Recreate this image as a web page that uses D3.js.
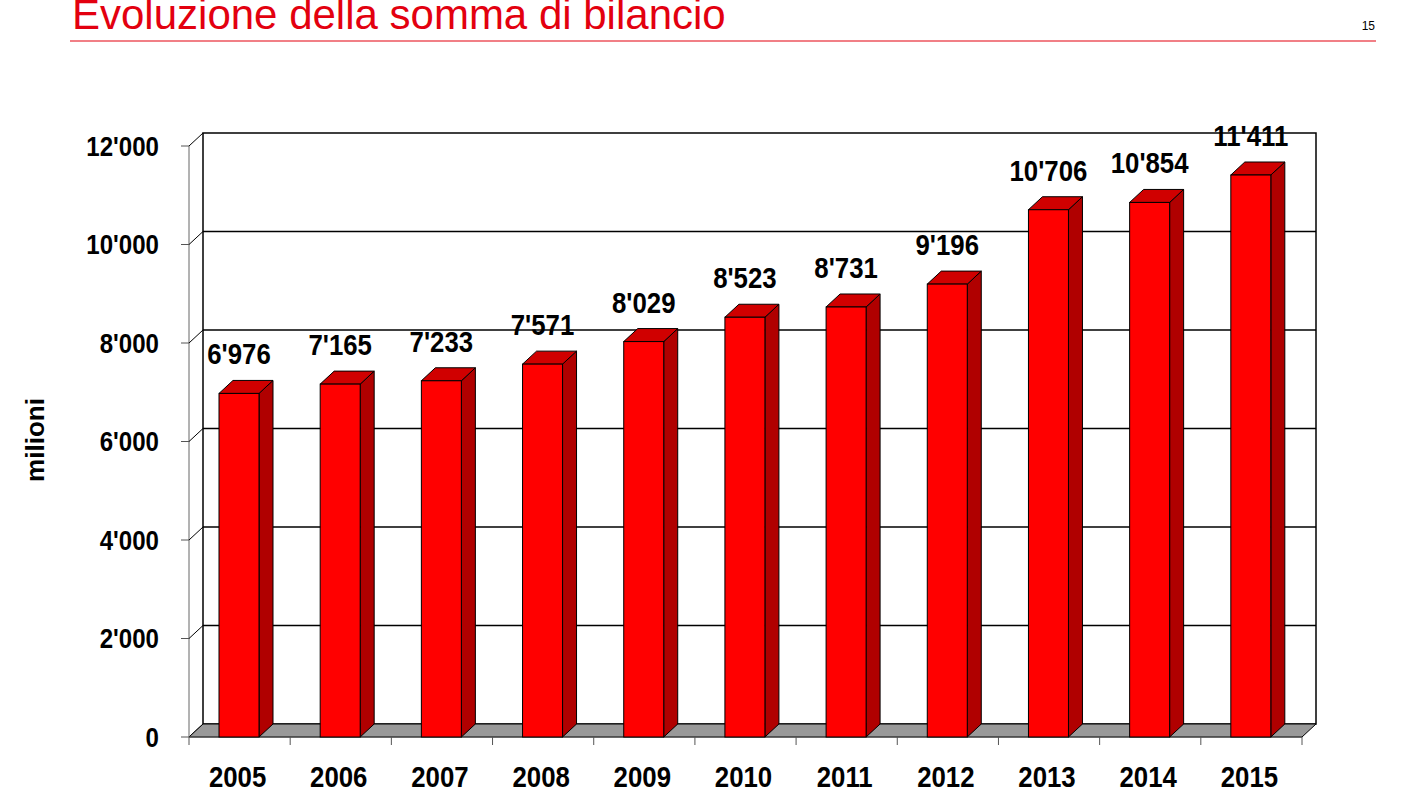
<!DOCTYPE html>
<html><head><meta charset="utf-8">
<script src="https://cdn.jsdelivr.net/npm/d3@7"></script>
<style>body{margin:0;background:#fff}</style>
</head><body>
<svg id="c" width="1408" height="792"></svg>
<script>
"use strict";

const years = ['2005','2006','2007','2008','2009','2010','2011','2012','2013','2014','2015'];
const values = [6976, 7165, 7233, 7571, 8029, 8523, 8731, 9196, 10706, 10854, 11411];
const yTicks = [0, 2000, 4000, 6000, 8000, 10000, 12000];

const svg = d3.select('#c');
const fmt = v => d3.format(',')(v).replace(/,/g, "'");

// depth offset of the 3d box
const dx = 14, dy = -13;
const x0 = 189, x1 = 1302, yBase = 737;

const x = d3.scaleBand().domain(years).range([x0, x1]).paddingInner(0).paddingOuter(0);
const y = d3.scaleLinear().domain([0, 12000]).range([yBase, 146]);

// narrow bold text, like the original's condensed look
const squeeze = (sel, cx, k) => sel.attr('transform', d => { const c = cx(d); return `translate(${c},0) scale(${k},1) translate(${-c},0)`; });

// title
svg.append('text').attr('x', 72).attr('y', 29).attr('fill', '#e3000f')
  .attr('font-family', 'Arial, Liberation Sans, sans-serif').attr('font-size', 42)
  .text('Evoluzione della somma di bilancio');
svg.append('line').attr('x1', 70).attr('x2', 1376).attr('y1', 41).attr('y2', 41)
  .attr('stroke', '#e3000f').attr('stroke-width', 1.2);
svg.append('text').attr('x', 1375).attr('y', 30).attr('text-anchor', 'end')
  .attr('font-family', 'Arial, Liberation Sans, sans-serif').attr('font-size', 12).text('15');

const g = svg.append('g');
const ink = '#000';

// back wall frame + gridlines
g.append('rect').attr('x', x0 + dx).attr('y', y(12000) + dy).attr('width', x1 - x0)
  .attr('height', yBase - y(12000)).attr('fill', 'none').attr('stroke', ink).attr('stroke-width', 1.5);
g.selectAll('.grid').data(yTicks.filter(d => d > 0 && d < 12000)).join('line')
  .attr('x1', x0 + dx).attr('x2', x1 + dx).attr('y1', d => y(d) + dy).attr('y2', d => y(d) + dy)
  .attr('stroke', ink).attr('stroke-width', 1.5);

// left side wall edge
g.append('line').attr('x1', x0).attr('y1', yBase).attr('x2', x0).attr('y2', y(12000))
  .attr('stroke', '#666').attr('stroke-width', 1);
g.selectAll('.diag').data(yTicks).join('line')
  .attr('x1', x0).attr('x2', x0 + dx).attr('y1', d => y(d)).attr('y2', d => y(d) + dy)
  .attr('stroke', ink).attr('stroke-width', 1);

// floor
g.append('polygon')
  .attr('points', [[x0, yBase], [x1, yBase], [x1 + dx, yBase + dy], [x0 + dx, yBase + dy]].join(' '))
  .attr('fill', '#999').attr('stroke', ink).attr('stroke-width', 1);

// y axis ticks + labels
g.selectAll('.yt').data(yTicks).join('line')
  .attr('x1', x0 - 8).attr('x2', x0).attr('y1', d => y(d)).attr('y2', d => y(d)).attr('stroke', '#555');
g.selectAll('.yl').data(yTicks).join('text')
  .attr('x', x0 - 30).attr('y', d => y(d) + 10).attr('text-anchor', 'end')
  .attr('font-family', 'Arial, Liberation Sans, sans-serif').attr('font-weight', 'bold').attr('font-size', 28)
  .call(squeeze, () => x0 - 30, 0.86)
  .text(fmt);
svg.append('text').attr('transform', 'translate(44,440) rotate(-90)').attr('text-anchor', 'middle')
  .attr('font-family', 'Arial, Liberation Sans, sans-serif').attr('font-weight', 'bold').attr('font-size', 26)
  .text('milioni');

// x axis line, ticks and labels
g.append('line').attr('x1', x0).attr('x2', x1).attr('y1', yBase).attr('y2', yBase).attr('stroke', '#555');
g.selectAll('.xt').data(years.concat(['end'])).join('line')
  .attr('x1', (d, i) => x0 + i * x.step()).attr('x2', (d, i) => x0 + i * x.step())
  .attr('y1', yBase).attr('y2', yBase + 8).attr('stroke', '#555');
g.selectAll('.xl').data(years).join('text')
  .attr('x', d => x(d) + x.bandwidth() / 2 - 2).attr('y', 787).attr('text-anchor', 'middle')
  .attr('font-family', 'Arial, Liberation Sans, sans-serif').attr('font-weight', 'bold').attr('font-size', 30)
  .call(squeeze, d => x(d) + x.bandwidth() / 2 - 2, 0.86)
  .text(d => d);

// bars
const bw = 40, off = 30;
const bars = g.selectAll('.bar').data(years.map((d, i) => ({ year: d, v: values[i] }))).join('g');
bars.append('polygon')
  .attr('points', d => { const l = x(d.year) + off, r = l + bw, t = y(d.v);
    return [[r, t], [r + dx, t + dy], [r + dx, yBase + dy], [r, yBase]].join(' '); })
  .attr('fill', '#b00000').attr('stroke', ink).attr('stroke-width', 1);
bars.append('polygon')
  .attr('points', d => { const l = x(d.year) + off, r = l + bw, t = y(d.v);
    return [[l, t], [l + dx, t + dy], [r + dx, t + dy], [r, t]].join(' '); })
  .attr('fill', '#d00000').attr('stroke', ink).attr('stroke-width', 1);
bars.append('rect')
  .attr('x', d => x(d.year) + off).attr('y', d => y(d.v)).attr('width', bw)
  .attr('height', d => yBase - y(d.v)).attr('fill', '#ff0000').attr('stroke', ink).attr('stroke-width', 1);
bars.append('text')
  .attr('x', d => x(d.year) + off + bw / 2).attr('y', d => y(d.v) - 29).attr('text-anchor', 'middle')
  .attr('font-family', 'Arial, Liberation Sans, sans-serif').attr('font-weight', 'bold').attr('font-size', 30)
  .call(squeeze, d => x(d.year) + off + bw / 2, 0.86)
  .text(d => fmt(d.v));
</script>
</body></html>
